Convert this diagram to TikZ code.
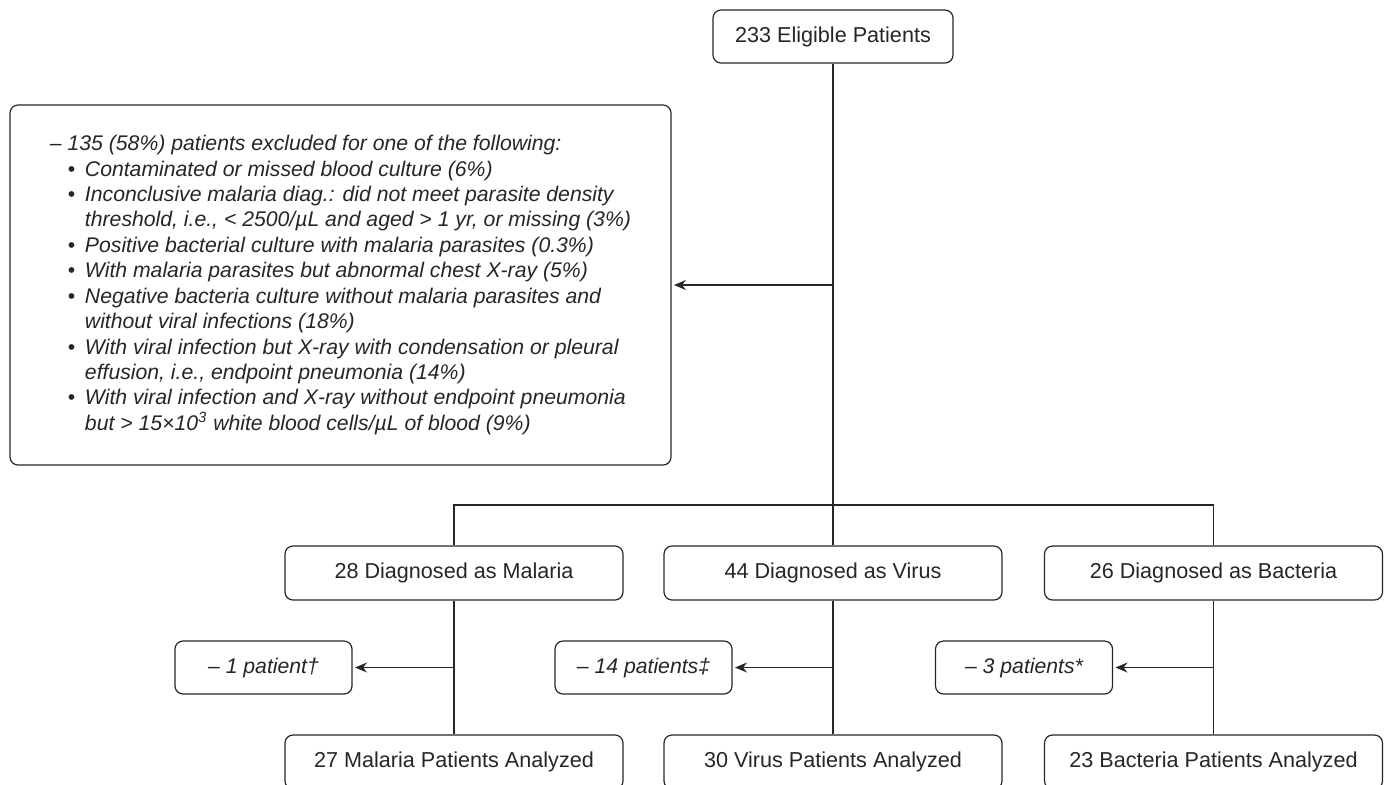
\documentclass[tikz,border=0pt]{standalone}
\usepackage{fontspec}
\setmainfont{Liberation Sans}
\usetikzlibrary{arrows.meta}

% bullet lines inside the exclusion box
\newcommand{\bitem}[1]{\hspace*{9pt}\makebox[8.5pt][l]{\upshape •}#1}
\newcommand{\bcont}[1]{\hspace*{17.5pt}#1}

\begin{document}
\begin{tikzpicture}[x=0.5pt, y=-0.5pt,
    % Styles
    box/.style={draw=black!85, rounded corners=4pt, line width=0.6pt,
                minimum width=169pt, minimum height=27pt, inner sep=2pt,
                font=\fontsize{10.8}{13}\selectfont, text=black!85},
    exbox/.style={box, minimum width=88.5pt, minimum height=26.5pt,
                  font=\fontsize{10.6}{13}\selectfont\itshape},
    line/.style={draw=black!85, line width=0.6pt},
    arrow/.style={line, -{Stealth[length=6pt, width=5pt, inset=2pt]}, shorten >=1.2pt},
  ]
  \useasboundingbox (0,0) rectangle (1385,784);

  % Top
  \node[box, minimum width=120pt, minimum height=26.5pt] (elig) at (833, 36.5) {233 Eligible Patients};

  % Exclusions
  \node[box, minimum width=330.5pt, minimum height=180pt, align=left,
        font=\fontsize{10.6}{12.72}\selectfont\itshape] (excl) at (340.5, 285) {%
    – 135 (58\%) patients excluded for one of the following:\\
    \bitem{Contaminated or missed blood culture (6\%)}\\
    \bitem{Inconclusive malaria diag.: did not meet parasite density}\\
    \bcont{threshold, i.e., < 2500/µL and aged > 1 yr, or missing (3\%)}\\
    \bitem{Positive bacterial culture with malaria parasites (0.3\%)}\\
    \bitem{With malaria parasites but abnormal chest X-ray (5\%)}\\
    \bitem{Negative bacteria culture without malaria parasites and}\\
    \bcont{without viral infections (18\%)}\\
    \bitem{With viral infection but X-ray with condensation or pleural}\\
    \bcont{effusion, i.e., endpoint pneumonia (14\%)}\\
    \bitem{With viral infection and X-ray without endpoint pneumonia}\\
    \bcont{but > 15×10\textsuperscript{3} white blood cells/µL of blood (9\%)}};

  % Diagnoses
  \node[box] (mal) at (454, 573) {28 Diagnosed as Malaria};
  \node[box] (vir) at (833, 573) {44 Diagnosed as Virus};
  \node[box] (bac) at (1213.5, 573) {26 Diagnosed as Bacteria};

  % Dropped
  \node[exbox] (malx) at (263.5, 667.5) {– 1 patient†};
  \node[exbox] (virx) at (643.5, 667.5) {– 14 patients‡};
  \node[exbox] (bacx) at (1024, 667.5) {– 3 patients*};

  % Analyzed
  \node[box] (mala) at (454, 762) {27 Malaria Patients Analyzed};
  \node[box] (vira) at (833, 762) {30 Virus Patients Analyzed};
  \node[box] (baca) at (1213.5, 762) {23 Bacteria Patients Analyzed};

  % Lines
  \coordinate (split) at (833, 505);
  \draw[line] (elig) -- (split);
  \draw[arrow] (elig.south |- excl.east) -- (excl.east);
  \draw[line] (mal.north) |- (split) -| (bac.north);
  \draw[line] (split) -- (vir.north);

  \draw[line] (mal) -- (mala);
  \draw[line] (vir) -- (vira);
  \draw[line] (bac) -- (baca);
  \draw[arrow] (mal.south |- malx.east) -- (malx.east);
  \draw[arrow] (vir.south |- virx.east) -- (virx.east);
  \draw[arrow] (bac.south |- bacx.east) -- (bacx.east);

\end{tikzpicture}
\end{document}
